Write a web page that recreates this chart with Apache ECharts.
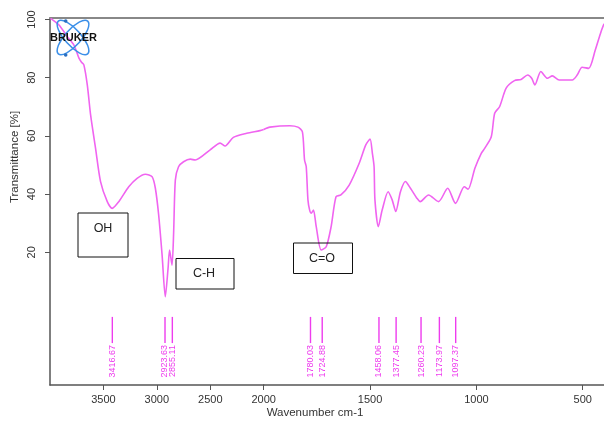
<!DOCTYPE html>
<html><head><meta charset="utf-8">
<script src="https://cdn.jsdelivr.net/npm/echarts@6/dist/echarts.min.js"></script>
<style>html,body{margin:0;padding:0;background:#fff}#c{width:604px;height:426px}</style>
</head><body><div id="c"></div>
<script>
// Wavenumber (cm-1) and transmittance (%)
const wavenumber = [3995,3916,3838,3776,3729,3705,3683,3651,3620,3574,3527,3464,3418,3356,3263,3185,3107,3045,3014,2983,2951,2921,2895,2881,2858,2843,2827,2797,2750,2687,2641,2501,2408,2361,2284,2159,2035,2000,1971,1877,1839,1818,1808,1800,1792,1784,1776,1766,1753,1730,1706,1683,1660,1637,1598,1551,1520,1500,1489,1481,1477,1461,1443,1415,1396,1379,1357,1334,1310,1280,1264,1225,1178,1135,1098,1057,1039,1007,977,961,930,914,891,860,821,790,759,740,725,697,666,643,611,549,526,503,472,441,414,400];
const transmittance = [100.4,98.1,94.1,91.2,86.7,85.3,84.4,77.5,67.2,55.8,44.3,37.4,35.1,37.4,42.5,45.4,46.8,46.0,42.0,32.8,19.1,4.7,14.5,20.8,15.6,26.6,44.8,49.4,51.1,52.0,51.7,55.2,57.5,56.5,59.5,60.9,61.8,62.2,63.0,63.5,63.0,61.4,51.7,49.4,38.0,34.5,33.4,34.5,28.8,20.8,21.9,28.8,39.1,39.7,43.1,50.6,56.9,58.9,54.0,49.4,38.0,28.8,34.5,40.8,38.0,34.0,40.8,44.3,42.0,38.6,37.4,39.7,37.4,42.0,36.8,42.5,41.7,48.9,54.0,55.7,59.7,67.8,70.0,76.4,79.0,79.4,80.9,79.8,77.5,82.1,79.8,80.6,79.2,79.2,80.9,83.6,83.2,89.5,95.8,98.5];
const peakPositions = [3416.67,2923.63,2855.11,1780.03,1724.88,1458.06,1377.45,1260.23,1173.97,1097.37];
const peakLabels = ["3416.67","2923.63","2855.11","1780.03","1724.88","1458.06","1377.45","1260.23","1173.97","1097.37"];
const xTicksHigh = [2000,2500,3000,3500];
const xTicksLow = [500,1000,1500];
const yTicks = [20,40,60,80,100];
const annotations = ["OH","C-H","C=O"];

const BREAK = 2000;
const pts = wavenumber.map((w,i)=>[w, transmittance[i]]);
const highPts = pts.filter(p=>p[0]>=BREAK);
const lowPts = pts.filter(p=>p[0]<=BREAK);
const peakData = peakPositions.map((w,i)=>[w,i]);
const highPeaks = peakData.filter(p=>p[0]>=BREAK);
const lowPeaks = peakData.filter(p=>p[0]<BREAK);

const LINE = '#f064f0';
const PEAK = '#ee3cee';
const AXIS = '#555';
const FONT = 'Liberation Sans';
const YMIN = -25.6, YMAX = 100.5;

function peakRender(params, api){
  const w = api.value(0);
  const idx = api.value(1);
  const p1 = api.coord([w, -2.2]);
  const p2 = api.coord([w, -11.2]);
  return {type:'group', children:[
    {type:'line', shape:{x1:p1[0],y1:p1[1],x2:p2[0],y2:p2[1]}, style:{stroke:PEAK, lineWidth:1.4}},
    {type:'text', x:p2[0], y:p2[1]+2, rotation:Math.PI/2,
      style:{text:peakLabels[idx], fill:PEAK, font:'9px "'+FONT+'"', align:'right', verticalAlign:'middle'}}
  ]};
}

const plain = v => String(v);
const xBase = {
  type:'value', inverse:true,
  axisLine:{show:true, onZero:false, lineStyle:{color:AXIS, width:1.5}},
  axisTick:{show:true, length:5, lineStyle:{color:AXIS}},
  axisLabel:{color:'#333', fontSize:11, fontFamily:FONT, margin:9, formatter:plain},
  splitLine:{show:false}
};

const chart = echarts.init(document.getElementById('c'), null, {renderer:'canvas'});
chart.setOption({
  animation:false,
  backgroundColor:'#fff',
  grid:[
    {left:50, top:18, width:213.7, bottom:41},
    {left:263.7, top:18, right:-2.5, bottom:41}
  ],
  xAxis:[
    Object.assign({}, xBase, {gridIndex:0, min:BREAK, max:4000,
      axisTick:{show:true, length:5, lineStyle:{color:AXIS}, customValues:xTicksHigh},
      axisLabel:Object.assign({}, xBase.axisLabel, {customValues:xTicksHigh})}),
    Object.assign({}, xBase, {gridIndex:1, min:400, max:BREAK,
      axisTick:{show:true, length:5, lineStyle:{color:AXIS}, customValues:xTicksLow},
      axisLabel:Object.assign({}, xBase.axisLabel, {customValues:xTicksLow})}),
    {type:'value', gridIndex:0, position:'top', min:BREAK, max:4000, inverse:true,
      axisLine:{show:true, onZero:false, lineStyle:{color:'#888', width:2}}, axisTick:{show:false}, axisLabel:{show:false}, splitLine:{show:false}},
    {type:'value', gridIndex:1, position:'top', min:400, max:BREAK, inverse:true,
      axisLine:{show:true, onZero:false, lineStyle:{color:'#888', width:2}}, axisTick:{show:false}, axisLabel:{show:false}, splitLine:{show:false}}
  ],
  yAxis:[
    {type:'value', gridIndex:0, min:YMIN, max:YMAX,
      axisLine:{show:true, onZero:false, lineStyle:{color:AXIS, width:1.5}},
      axisTick:{show:true, length:5, lineStyle:{color:AXIS}, customValues:yTicks},
      axisLabel:{color:'#333', fontSize:11, fontFamily:FONT, rotate:90, margin:13, customValues:yTicks, formatter:plain},
      splitLine:{show:false}},
    {type:'value', gridIndex:1, min:YMIN, max:YMAX, show:false, splitLine:{show:false}}
  ],
  series:[
    {type:'line', xAxisIndex:0, yAxisIndex:0, data:highPts, showSymbol:false, smooth:0.25,
      lineStyle:{color:LINE, width:1.6}, clip:true, z:3},
    {type:'line', xAxisIndex:1, yAxisIndex:1, data:lowPts, showSymbol:false, smooth:0.25,
      lineStyle:{color:LINE, width:1.6}, clip:true, z:3},
    {type:'custom', xAxisIndex:0, yAxisIndex:0, data:highPeaks, renderItem:peakRender, clip:false, z:4},
    {type:'custom', xAxisIndex:1, yAxisIndex:1, data:lowPeaks, renderItem:peakRender, clip:false, z:4}
  ],
  graphic:[
    // axis titles
    {type:'text', x:15, y:157, rotation:Math.PI/2, z:10,
      style:{text:'Transmittance [%]', fill:'#333', font:'11.5px "'+FONT+'"', align:'center', verticalAlign:'middle'}},
    {type:'text', x:315, y:413, z:10,
      style:{text:'Wavenumber cm-1', fill:'#333', font:'11.5px "'+FONT+'"', align:'center', verticalAlign:'middle'}},
    // annotation boxes
    {type:'rect', shape:{x:78, y:213, width:50, height:44}, style:{fill:'none', stroke:'#111', lineWidth:1}, z:10},
    {type:'text', x:103, y:229, z:11, style:{text:annotations[0], fill:'#222', font:'12.5px "'+FONT+'"', align:'center', verticalAlign:'middle'}},
    {type:'rect', shape:{x:176, y:258.5, width:58, height:30.5}, style:{fill:'none', stroke:'#111', lineWidth:1}, z:10},
    {type:'text', x:204, y:273.5, z:11, style:{text:annotations[1], fill:'#222', font:'12.5px "'+FONT+'"', align:'center', verticalAlign:'middle'}},
    {type:'rect', shape:{x:293.5, y:243, width:59, height:30.5}, style:{fill:'none', stroke:'#111', lineWidth:1}, z:10},
    {type:'text', x:322, y:258.5, z:11, style:{text:annotations[2], fill:'#222', font:'12.5px "'+FONT+'"', align:'center', verticalAlign:'middle'}},
    // Bruker logo
    {type:'ellipse', x:73, y:37.5, rotation:-0.84, shape:{cx:0, cy:0, rx:22, ry:8}, style:{fill:'none', stroke:'#3b8fe8', lineWidth:1.5}, z:12},
    {type:'ellipse', x:73, y:37.5, rotation:0.84, shape:{cx:0, cy:0, rx:22, ry:8}, style:{fill:'none', stroke:'#3b8fe8', lineWidth:1.5}, z:12},
    {type:'circle', shape:{cx:65.7, cy:21, r:1.8}, style:{fill:'#2a6fc0'}, z:12},
    {type:'circle', shape:{cx:65.7, cy:55, r:1.8}, style:{fill:'#2a6fc0'}, z:12},
    {type:'text', x:73.5, y:38, z:13, style:{text:'BRUKER', fill:'#111', font:'bold 11px "'+FONT+'"', align:'center', verticalAlign:'middle'}}
  ]
});
</script></body></html>
